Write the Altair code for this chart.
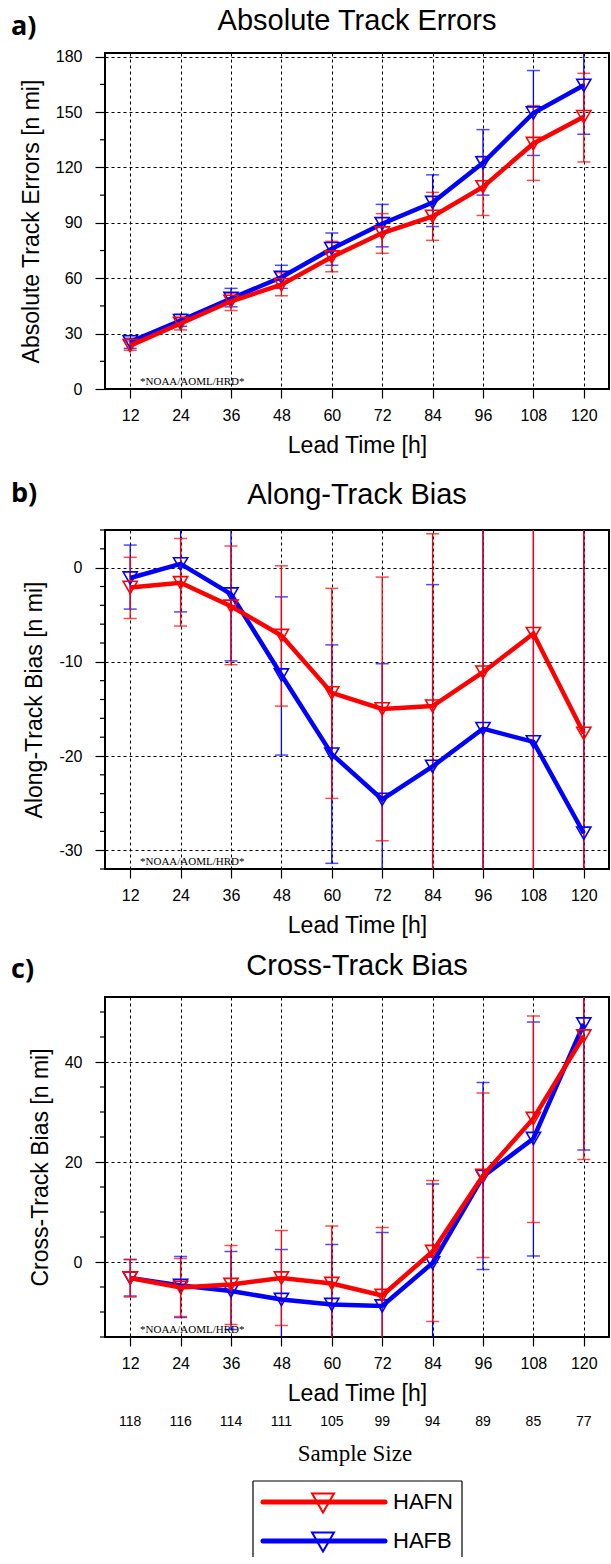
import altair as alt
import pandas as pd

# ---------------- data ----------------
lead = [12, 24, 36, 48, 60, 72, 84, 96, 108, 120]
sample_size = [118, 116, 114, 111, 105, 99, 94, 89, 85, 77]
models = ["HAFN", "HAFB"]
colors = ["#ff0000", "#0000ff"]

# a) Absolute track errors
ate_hafn = [23.5, 35.5, 47.5, 56.5, 71.5, 84.5, 93.5, 109.5, 133.0, 147.5]
ate_hafn_lo = [21.0, 32.0, 42.5, 50.5, 63.5, 73.5, 80.5, 94.0, 113.0, 123.0]
ate_hafn_hi = [26.0, 38.5, 52.0, 63.0, 80.0, 95.0, 106.5, 126.0, 153.5, 171.0]
ate_hafb = [25.5, 37.0, 49.0, 60.5, 76.0, 89.5, 101.0, 122.5, 149.5, 164.5]
ate_hafb_lo = [22.0, 34.0, 44.5, 54.5, 67.0, 77.0, 88.0, 105.0, 126.5, 138.0]
ate_hafb_hi = [27.5, 40.5, 54.5, 67.0, 84.5, 100.0, 116.0, 140.5, 172.5, 192.0]

# b) Along-track bias
atb_hafn = [-2.1, -1.6, -4.1, -7.2, -13.3, -15.0, -14.7, -11.1, -7.0, -17.6]
atb_hafn_lo = [-5.4, -6.2, -10.3, -14.7, -24.5, -29.0, -38.0, -40.0, -38.0, -45.0]
atb_hafn_hi = [1.1, 3.1, 2.3, 0.2, -2.2, -1.0, 3.6, 12.0, 18.0, 10.0]
atb_hafb = [-1.1, 0.4, -2.8, -11.4, -19.8, -24.6, -21.1, -17.1, -18.5, -28.2]
atb_hafb_lo = [-4.4, -4.7, -9.9, -19.9, -31.4, -39.0, -40.0, -42.0, -44.0, -55.0]
atb_hafb_hi = [2.4, 5.5, 6.5, -3.1, -8.2, -10.2, -1.8, 8.0, 7.0, 6.0]

# c) Cross-track bias
ctb_hafn = [-3.2, -5.1, -4.5, -3.2, -4.3, -6.7, 2.1, 17.3, 28.7, 45.2]
ctb_hafn_lo = [-7.0, -10.9, -12.5, -12.7, -16.0, -20.0, -11.9, 0.9, 7.9, 20.5]
ctb_hafn_hi = [0.5, 0.7, 3.3, 6.3, 7.2, 6.9, 16.3, 33.8, 49.2, 70.0]
ctb_hafb = [-3.2, -4.7, -5.8, -7.5, -8.5, -8.8, -0.2, 17.1, 24.7, 47.6]
ctb_hafb_lo = [-6.8, -11.1, -13.5, -17.0, -20.0, -23.0, -22.0, -1.5, 1.2, 22.4]
ctb_hafb_hi = [0.5, 1.1, 2.1, 2.5, 3.5, 5.9, 15.6, 35.9, 48.0, 73.0]

# y-axis tick values (labelled majors, unlabelled minors)
a_major = [0, 30, 60, 90, 120, 150, 180]
a_minor = [15, 45, 75, 105, 135, 165]
b_major = [-30, -20, -10, 0]
b_minor = [-32, -28, -26, -24, -22, -18, -16, -14, -12, -8, -6, -4, -2, 2, 4]
c_major = [0, 20, 40]
c_minor = [-15, -10, -5, 5, 10, 15, 25, 30, 35, 45, 50]

FONT = "Liberation Sans"
W = 504


def series_df(mean, lo, hi):
    return pd.DataFrame({"lead": lead, "mean": mean, "lo": lo, "hi": hi})


def text_layer(txt, x, y, **kw):
    return alt.Chart(pd.DataFrame({"t": [txt]})).mark_text(**kw).encode(
        text="t:N", x=alt.value(x), y=alt.value(y)
    )


def panel(series, ydomain, major, minor, ytitle, title, label, h,
          title_y, label_y, extra=None, top_space=None):
    xenc = alt.X(
        "lead:Q",
        scale=alt.Scale(domain=[6, 126], nice=False, zero=False),
        axis=alt.Axis(
            values=lead, title="Lead Time [h]", grid=True, gridDash=[3, 3],
            gridColor="black", gridWidth=1, gridOpacity=1, domain=False,
            tickSize=9, tickColor="black", tickWidth=1.2, labelPadding=9,
            labelFont=FONT, labelFontSize=16, labelColor="black",
            labelFlush=False, titleFont=FONT, titleFontSize=23,
            titleFontWeight="normal", titleColor="black", titlePadding=11,
        ),
    )
    yaxis = alt.Axis(
        values=major, title=ytitle, grid=True, gridDash=[3, 3],
        gridColor="black", gridWidth=1, gridOpacity=1, tickSize=10,
        domain=False, tickColor="black", tickWidth=1.2, labelOverlap=False,
        labelExpr="'' + datum.value",
        labelPadding=13, labelFont=FONT, labelFontSize=16, labelColor="black",
        labelFlush=False, titleFont=FONT, titleFontSize=23,
        titleFontWeight="normal", titleColor="black", titlePadding=12,
    )
    yscale = alt.Scale(domain=ydomain, nice=False, zero=False)

    layers = []
    # minor ticks on the left edge (this layer also carries the y axis)
    layers.append(alt.Chart(pd.DataFrame({"v": minor})).mark_rule(
        color="black", strokeWidth=1.2).encode(
        y=alt.Y("v:Q", scale=yscale, axis=yaxis), x=alt.value(-5), x2=alt.value(0)))
    # error bars (blue first, then red)
    for (mean, lo, hi), col in reversed(list(zip(series, colors))):
        df = series_df(mean, lo, hi)
        base = alt.Chart(df)
        layers.append(base.mark_rule(color=col, strokeWidth=1.3, clip=True).encode(
            x=xenc, y=alt.Y("lo:Q"), y2="hi:Q"))
        for f in ["lo", "hi"]:
            layers.append(base.mark_tick(color=col, orient="horizontal", size=13,
                                         thickness=1.5, clip=True).encode(
                x="lead:Q", y=alt.Y(f"{f}:Q")))
    # lines + markers
    for (mean, lo, hi), col in reversed(list(zip(series, colors))):
        df = series_df(mean, lo, hi)
        base = alt.Chart(df)
        layers.append(base.mark_line(color=col, strokeWidth=4.5, clip=True).encode(
            x="lead:Q", y="mean:Q"))
        layers.append(base.mark_point(color=col, shape="triangle-down", size=200,
                                      filled=False, strokeWidth=1.6, opacity=1,
                                      clip=True).encode(x="lead:Q", y="mean:Q"))
    layers.append(text_layer("*NOAA/AOML/HRD*", 35, h - 4, font="Liberation Serif",
                             fontSize=11, align="left", baseline="alphabetic",
                             color="black"))
    layers.append(text_layer(title, W / 2, title_y, font=FONT, fontSize=29,
                             align="center", baseline="alphabetic", color="black"))
    layers.append(text_layer(label, -94, label_y, font="Open Sans", fontSize=27,
                             fontWeight="bold", align="left", baseline="alphabetic",
                             color="black"))
    if top_space is not None:
        # invisible spacer that reserves room above the panel
        layers.append(alt.Chart(pd.DataFrame({"k": [0]})).mark_rule(
            opacity=0, strokeWidth=1).encode(
            x=alt.value(0), y=alt.value(top_space), y2=alt.value(top_space + 5)))
    if extra:
        layers.extend(extra)
    return alt.layer(*layers).properties(width=W, height=h)


# extras for panel c: sample size row, "Sample Size" title and the legend
Hc = 340
extra = []
ss_df = pd.DataFrame({"lead": lead, "n": sample_size})
extra.append(alt.Chart(ss_df).mark_text(font=FONT, fontSize=14, baseline="alphabetic",
                                        color="black").encode(
    x="lead:Q", y=alt.value(429), text="n:Q"))
extra.append(text_layer("Sample Size", 250, 457, font="Liberation Serif", fontSize=23,
                        align="center", baseline="middle", color="black"))
one = pd.DataFrame({"k": [0]})
extra.append(alt.Chart(one).mark_rule(color="black", strokeWidth=1.2).encode(
    x=alt.value(148), x2=alt.value(357), y=alt.value(484)))
extra.append(alt.Chart(one).mark_rule(color="black", strokeWidth=1.2).encode(
    x=alt.value(148), y=alt.value(484), y2=alt.value(560)))
extra.append(alt.Chart(one).mark_rule(color="black", strokeWidth=1.2).encode(
    x=alt.value(357), y=alt.value(484), y2=alt.value(560)))
for i, (name, col) in enumerate(zip(models, colors)):
    yy = 505 + 39 * i
    extra.append(alt.Chart(one).mark_rule(color=col, strokeWidth=5, strokeCap="round").encode(
        x=alt.value(158), x2=alt.value(280), y=alt.value(yy)))
    extra.append(alt.Chart(one).mark_point(color=col, shape="triangle-down", size=480,
                                           filled=False, strokeWidth=2, opacity=1).encode(
        x=alt.value(218), y=alt.value(yy + 1)))
    extra.append(text_layer(name, 288, yy, font=FONT, fontSize=22, align="left",
                            baseline="middle", color="black"))

pa = panel([(ate_hafn, ate_hafn_lo, ate_hafn_hi), (ate_hafb, ate_hafb_lo, ate_hafb_hi)],
           [0, 182], a_major, a_minor, "Absolute Track Errors [n mi]",
           "Absolute Track Errors", "a)", 336, -23, -18)
pb = panel([(atb_hafn, atb_hafn_lo, atb_hafn_hi), (atb_hafb, atb_hafb_lo, atb_hafb_hi)],
           [-32, 4], b_major, b_minor, "Along-Track Bias [n mi]", "Along-Track Bias",
           "b)", 339, -26, -28, top_space=-58)
pc = panel([(ctb_hafn, ctb_hafn_lo, ctb_hafn_hi), (ctb_hafb, ctb_hafb_lo, ctb_hafb_hi)],
           [-15, 53], c_major, c_minor, "Cross-Track Bias [n mi]", "Cross-Track Bias",
           "c)", Hc, -22, -19, extra)

chart = alt.vconcat(pa, pb, pc, spacing=13).properties(
    padding={"left": 10, "top": 6, "right": 0, "bottom": 0}
).configure_view(stroke="black", strokeWidth=2)

chart.save("out.html", embed_options={"renderer": "svg", "actions": False})
